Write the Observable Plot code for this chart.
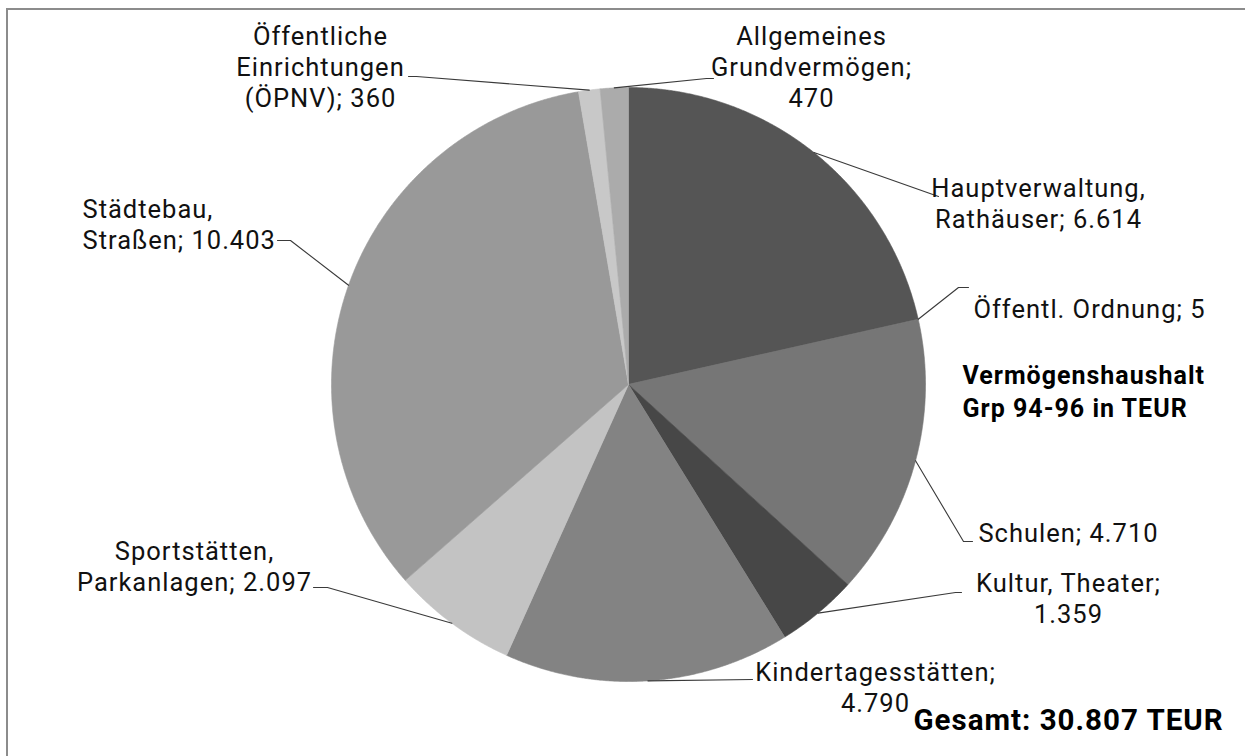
<!DOCTYPE html>
<html><head><meta charset="utf-8">
<script src="https://cdn.jsdelivr.net/npm/d3@7"></script>
<script src="https://cdn.jsdelivr.net/npm/@observablehq/plot@0.6"></script>
<style>
html,body{margin:0;padding:0;background:#fff;overflow:hidden}
#wrap{position:relative;width:1245px;height:756px;overflow:hidden;background:#fff}
#border{position:absolute;left:6px;top:8px;width:1400px;height:900px;border-left:2px solid #8c8c8c;border-top:2px solid #8c8c8c;pointer-events:none}
#chart svg text{letter-spacing:1px}
</style></head><body>
<div id="wrap"><div id="chart"></div><div id="border"></div></div>
<script>
// ---- data ----
const categories = ["Hauptverwaltung,\nRathäuser", "Öffentl. Ordnung", "Schulen", "Kultur, Theater", "Kindertagesstätten", "Sportstätten,\nParkanlagen", "Städtebau,\nStraßen", "Öffentliche\nEinrichtungen\n(ÖPNV)", "Allgemeines\nGrundvermögen"];
const values = [6614, 5, 4710, 1359, 4790, 2097, 10403, 360, 470];
const valueLabels = ["6.614", "5", "4.710", "1.359", "4.790", "2.097", "10.403", "360", "470"];
const separators = ["; ", "; ", "; ", ";\n", ";\n", "; ", "; ", "; ", ";\n"];
const shades = ["#555555", "#6a6a6a", "#767676", "#474747", "#838383", "#c3c3c3", "#999999", "#c8c8c8", "#ababab"];
const chartTitle = "Vermögenshaushalt\nGrp 94-96 in TEUR";
const totalText = "Gesamt: 30.807 TEUR";

// ---- layout ----
const W = 1245, H = 756, cx = 628, cy = 384, R = 297;
// label block centre and alignment
const labelPlace = [
  [1038, 202.5, "middle"], [1089, 308, "middle"], [1068, 532, "middle"], [1068, 597.5, "middle"],
  [875, 686.5, "middle"], [194, 565.5, "middle"], [82, 223, "start"], [320, 66, "middle"], [811, 66, "middle"]
];
// leader elbow and end
const leaderBends = [
  [[938, 196], [938, 196]], [[958, 287], [968, 287]], [[963, 541], [972, 541]], [[955, 592], [961, 592]],
  [[752, 679], [752, 679]], [[327, 587], [313, 587]], [[290, 240], [277, 240]], [[416, 76], [408, 76]], [[706, 78], [713, 78]]
];

const arcs = d3.pie().sort(null).value(d => d)(values);
const slicePts = [];
const leaderPts = [];
arcs.forEach((a, i) => {
  const n = Math.max(2, Math.ceil((a.endAngle - a.startAngle) / 0.004));
  slicePts.push({k: i, x: cx, y: cy, c: shades[i]});
  for (let j = 0; j <= n; j++) {
    const t = a.startAngle + (a.endAngle - a.startAngle) * j / n;
    slicePts.push({k: i, x: cx + R * Math.sin(t), y: cy - R * Math.cos(t), c: shades[i]});
  }
  slicePts.push({k: i, x: cx, y: cy, c: shades[i]});
  const m = (a.startAngle + a.endAngle) / 2;
  leaderPts.push({k: i, x: cx + R * Math.sin(m), y: cy - R * Math.cos(m)});
  leaderBends[i].forEach(p => leaderPts.push({k: i, x: p[0], y: p[1]}));
});

const labels = categories.map((c, i) => ({
  text: c + separators[i] + valueLabels[i],
  x: labelPlace[i][0], y: labelPlace[i][1], anchor: labelPlace[i][2]
}));

const textOpts = {x: "x", y: "y", text: "text", fontSize: 25.5, lineHeight: 1.215, fill: "#111"};
const chart = Plot.plot({
  width: W, height: H, margin: 0,
  x: {domain: [0, W], axis: null},
  y: {domain: [0, H], reverse: true, axis: null},
  color: {type: "identity"},
  style: {fontFamily: "Roboto, 'Open Sans', sans-serif", background: "transparent"},
  marks: [
    Plot.line(slicePts, {x: "x", y: "y", z: "k", fill: "c", stroke: "c", strokeWidth: 0.6}),
    Plot.line(leaderPts, {x: "x", y: "y", z: "k", stroke: "#3a3a3a", strokeWidth: 1.1}),
    Plot.text(labels.filter(d => d.anchor === "middle"), {...textOpts, textAnchor: "middle"}),
    Plot.text(labels.filter(d => d.anchor === "start"), {...textOpts, textAnchor: "start"}),
    Plot.text([chartTitle], {x: () => 962, y: () => 389.5, text: d => d, fontSize: 25, fontWeight: "bold", lineHeight: 1.32, textAnchor: "start", fill: "#000"}),
    Plot.text([totalText], {x: () => 913, y: () => 720, text: d => d, fontSize: 29.5, fontWeight: "bold", textAnchor: "start", fill: "#000"})
  ]
});
document.getElementById("chart").appendChild(chart);
</script>
</body></html>
